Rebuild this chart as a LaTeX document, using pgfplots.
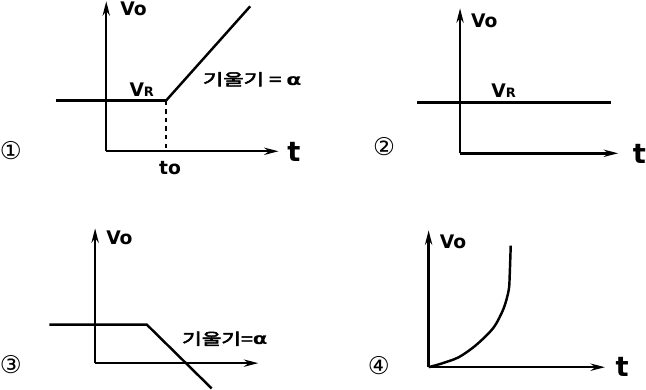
\documentclass[border=0pt]{standalone}
\usepackage{fontspec}
\usepackage{pgfplots}
\pgfplotsset{compat=1.18}
\usetikzlibrary{arrows.meta}
\setmainfont{DejaVu Sans}
\newfontfamily\kr{Noto Sans CJK KR}[FakeBold=3]

\tikzset{
    ax/.style={-{Stealth[length=10pt,width=5pt]}},
    lbl/.style={font=\fontsize{13}{14}\selectfont\bfseries, inner sep=0pt},
    big/.style={font=\fontsize{19}{20}\selectfont\bfseries, inner sep=0pt},
    num/.style={font=\fontsize{17}{18}\selectfont, inner sep=0pt},
    slope/.style={font=\fontsize{11}{12}\selectfont\kr, inner sep=0pt},
}

\begin{document}
\begin{tikzpicture}
\begin{axis}[
    width=16cm, height=9.858cm, scale only axis,
    xmin=0, xmax=646, ymin=0, ymax=398,
    y dir=reverse,
    hide axis, clip=false,
    cycle list={{black, solid, mark=none}},
    every axis plot post/.append style={line width=1.7pt},
]

% panel 1: ramp after t0
\addplot+[ax] coordinates {(108,163) (108,15)};
\addplot+[ax] coordinates {(108,163) (278,163)};
\addplot coordinates {(58,113) (167,113)};
\addplot+[dashed] coordinates {(167,113) (167,163)};
\addplot coordinates {(167,113) (250,20)};
\node[lbl] at (axis cs:135,22) {Vo};
\node[lbl] at (axis cs:143,102) {V{\small R}};
\node[lbl] at (axis cs:171,180) {to};
\node[big] at (axis cs:293,164) {t};
\node[slope, xscale=1.4] at (axis cs:252,92) {기울기 = {\fontspec{DejaVu Sans}\bfseries α}};
\node[num] at (axis cs:14,162) {①};

% panel 2: constant VR
\addplot+[ax] coordinates {(457,165) (457,22)};
\addplot+[ax] coordinates {(457,165) (613,165)};
\addplot coordinates {(415,115) (606,115)};
\node[lbl] at (axis cs:481,34) {Vo};
\node[lbl] at (axis cs:500,103) {V{\small R}};
\node[big] at (axis cs:634,166) {t};
\node[num] at (axis cs:382,158) {②};

% panel 3: falling ramp
\addplot+[ax] coordinates {(97,372) (97,239)};
\addplot+[ax] coordinates {(97,372) (258,372)};
\addplot coordinates {(52,334) (148,334) (212,397)};
\node[lbl] at (axis cs:121,248) {Vo};
\node[slope, xscale=1.35] at (axis cs:225,348) {기울기={\fontspec{DejaVu Sans}\bfseries α}};
\node[num] at (axis cs:14,373) {③};

% panel 4: rising curve
\addplot+[ax] coordinates {(426,376) (426,241)};
\addplot+[ax] coordinates {(426,376) (600,376)};
\addplot+[smooth] coordinates {
    (426,376) (440,372) (456,366) (473,354) (490,337) (500,318)
    (505,300) (506,285) (507,256)
};
\node[lbl] at (axis cs:450,252) {Vo};
\node[big] at (axis cs:617,376) {t};
\node[num] at (axis cs:377,374) {④};

\end{axis}
\end{tikzpicture}
\end{document}
